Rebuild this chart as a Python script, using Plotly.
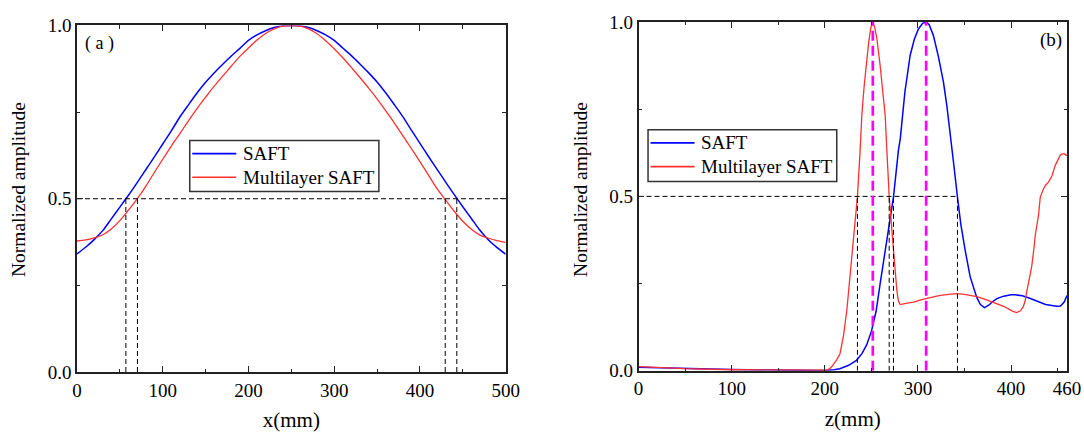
import plotly.graph_objects as go

# ---------------- Panel (a) data ----------------
x_a = [0, 10, 20, 30, 40, 50, 60, 70, 80, 90, 100, 110, 120, 130, 140, 150, 160, 170, 180, 190, 200,
       210, 220, 230, 240, 250, 260, 270, 280, 290, 300, 310, 320, 330, 340, 350, 360, 370, 380, 390,
       400, 410, 420, 430, 440, 450, 460, 470, 480, 490, 500]
saft_a = [0.341, 0.360, 0.382, 0.408, 0.442, 0.476, 0.510, 0.546, 0.583, 0.620, 0.658, 0.696, 0.736,
          0.771, 0.805, 0.836, 0.863, 0.888, 0.912, 0.934, 0.957, 0.973, 0.985, 0.994, 0.999, 1.000,
          0.999, 0.994, 0.985, 0.973, 0.957, 0.935, 0.913, 0.889, 0.864, 0.837, 0.806, 0.772, 0.737,
          0.698, 0.660, 0.622, 0.585, 0.548, 0.512, 0.477, 0.443, 0.409, 0.381, 0.359, 0.340]
mlsaft_a = [0.378, 0.381, 0.387, 0.396, 0.413, 0.437, 0.467, 0.499, 0.535, 0.575, 0.614, 0.652, 0.688,
            0.725, 0.760, 0.793, 0.825, 0.854, 0.883, 0.911, 0.935, 0.958, 0.977, 0.990, 0.998, 1.000,
            0.998, 0.990, 0.976, 0.956, 0.933, 0.907, 0.879, 0.850, 0.820, 0.788, 0.754, 0.719, 0.682,
            0.645, 0.607, 0.568, 0.529, 0.496, 0.464, 0.435, 0.412, 0.395, 0.386, 0.379, 0.374]
half_level = 0.5
half_x_a = [57, 70.5, 429.5, 443]

# ---------------- Panel (b) data ----------------
z_saft = [0, 25, 50, 100, 150, 200, 210, 216, 225, 234, 240, 245, 250, 255, 259.4, 264, 268.3, 273.7,
          279, 281, 286, 291.6, 296, 300.5, 305, 308.8, 312, 316.6, 322, 327.4, 331, 334.6, 338.5,
          342.4, 346, 350.7, 356, 363, 367, 371.4, 376, 380, 384.7, 392, 400, 404.4, 412, 420, 430,
          437, 442, 449, 453, 457, 460]
saft_b = [0.010, 0.008, 0.006, 0.004, 0.002, 0.001, 0.003, 0.006, 0.015, 0.030, 0.050, 0.075, 0.113,
          0.170, 0.250, 0.330, 0.393, 0.498, 0.632, 0.665, 0.800, 0.904, 0.950, 0.980, 0.996, 1.000,
          0.992, 0.961, 0.900, 0.827, 0.760, 0.684, 0.590, 0.498, 0.420, 0.345, 0.270, 0.211, 0.190,
          0.181, 0.188, 0.198, 0.207, 0.214, 0.218, 0.218, 0.215, 0.208, 0.198, 0.190, 0.188, 0.185,
          0.186, 0.197, 0.216]
z_ml = [0, 25, 50, 100, 150, 200, 203, 207, 210, 213, 216.3, 220, 223.6, 227, 230.7, 235, 237.9,
        239.7, 242, 244.4, 247, 249.5, 251.5, 253.5, 256, 259.4, 262, 264.8, 266.6, 269.1, 271.5,
        273.7, 277.3, 279, 280.9, 287, 295.2, 305, 315, 323.8, 333, 341.8, 350, 356, 363, 370, 377,
        384.7, 392, 398, 402, 406, 410, 413, 415, 417, 419, 422, 424, 426, 429.4, 431.3, 434.8, 437,
        440.2, 444, 447.4, 450, 452.7, 455, 457, 460]
mlsaft_b = [0.012, 0.009, 0.006, 0.003, 0.002, 0.001, 0.002, 0.010, 0.020, 0.033, 0.049, 0.100, 0.173,
            0.270, 0.393, 0.500, 0.632, 0.732, 0.810, 0.875, 0.940, 0.985, 1.000, 0.985, 0.950, 0.875,
            0.800, 0.732, 0.632, 0.500, 0.420, 0.345, 0.231, 0.200, 0.190, 0.193, 0.197, 0.205, 0.212,
            0.216, 0.219, 0.221, 0.219, 0.216, 0.213, 0.207, 0.200, 0.192, 0.185, 0.176, 0.170, 0.167,
            0.172, 0.183, 0.200, 0.230, 0.260, 0.297, 0.340, 0.390, 0.446, 0.498, 0.522, 0.532, 0.541,
            0.560, 0.589, 0.605, 0.618, 0.622, 0.622, 0.617]
half_x_b = [235, 269.1, 273.7, 342.4]
peak_z_b = [251.5, 308.8]

x_ticks_b = [0, 100, 200, 300, 400, 460]
y_ticks = [0, 0.5, 1.0]
series_names = ["SAFT", "Multilayer SAFT"]

FONT = "Liberation Serif, Times New Roman, serif"
BLUE = "#0000ff"
RED = "#ff3030"
MAG = "#ff00ff"
COLORS = [BLUE, RED]
WIDTHS = [1.5, 1.3]

fig = go.Figure()

# panel (a) curves
fig.add_trace(go.Scatter(x=x_a, y=saft_a, mode="lines", name=series_names[0],
                         line=dict(color=BLUE, width=1.5, shape="spline", smoothing=0.8),
                         xaxis="x", yaxis="y", showlegend=False))
fig.add_trace(go.Scatter(x=x_a, y=mlsaft_a, mode="lines", name=series_names[1],
                         line=dict(color=RED, width=1.3, shape="spline", smoothing=0.8),
                         xaxis="x", yaxis="y", showlegend=False))
fig.add_trace(go.Scatter(x=[x_a[0], x_a[-1]], y=[half_level, half_level], mode="lines",
                         line=dict(color="black", width=1, dash="5px,3px"), showlegend=False,
                         xaxis="x", yaxis="y", hoverinfo="skip"))
for hx in half_x_a:
    fig.add_trace(go.Scatter(x=[hx, hx], y=[0, half_level], mode="lines",
                             line=dict(color="black", width=1, dash="5px,3px"), showlegend=False,
                             xaxis="x", yaxis="y", hoverinfo="skip"))

# panel (b) curves
fig.add_trace(go.Scatter(x=z_saft, y=saft_b, mode="lines", name=series_names[0],
                         line=dict(color=BLUE, width=1.5), xaxis="x2", yaxis="y2", showlegend=False))
fig.add_trace(go.Scatter(x=z_ml, y=mlsaft_b, mode="lines", name=series_names[1],
                         line=dict(color=RED, width=1.3), xaxis="x2", yaxis="y2", showlegend=False))
fig.add_trace(go.Scatter(x=[0, half_x_b[-1]], y=[half_level, half_level], mode="lines",
                         line=dict(color="black", width=1, dash="5px,3px"), showlegend=False,
                         xaxis="x2", yaxis="y2", hoverinfo="skip"))
for hx in half_x_b:
    fig.add_trace(go.Scatter(x=[hx, hx], y=[0, half_level], mode="lines",
                             line=dict(color="black", width=1, dash="5px,3px"), showlegend=False,
                             xaxis="x2", yaxis="y2", hoverinfo="skip"))
for pz in peak_z_b:
    fig.add_trace(go.Scatter(x=[pz, pz], y=[0, 1], mode="lines",
                             line=dict(color=MAG, width=2.7, dash="10px,5px"), showlegend=False,
                             xaxis="x2", yaxis="y2", hoverinfo="skip"))

L, R, T, B = 77.3, 17.3, 21.5, 60.3
W, H = 1084, 432
PW, PH = W - L - R, H - T - B


def px_x(p):
    return (p - L) / PW


def px_y(p):
    return (H - B - p) / PH


axis_common = dict(showline=True, linewidth=1.5, linecolor="#222", mirror="ticks",
                   ticks="inside", ticklen=6, tickwidth=1.2, tickcolor="#222",
                   showgrid=False, zeroline=False,
                   tickfont=dict(family=FONT, size=19, color="black"),
                   automargin=False)
minor_common = dict(ticklen=3.5, tickwidth=1.2, tickcolor="#222", ticks="inside")

# manual legends (box, line samples, labels)
shapes = []
annotations = []
legend_boxes = [(190, 140, 379, 191), (648, 129.3, 836.6, 181)]
for (x0, y0, x1, y1) in legend_boxes:
    shapes.append(dict(type="rect", xref="paper", yref="paper",
                       x0=px_x(x0), x1=px_x(x1), y0=px_y(y1), y1=px_y(y0),
                       line=dict(color="#333", width=1.5), fillcolor="white", layer="above"))
    rows = [y0 + 13.2, y0 + 36.9]
    for i, ry in enumerate(rows):
        shapes.append(dict(type="line", xref="paper", yref="paper",
                           x0=px_x(x0 + 2.5), x1=px_x(x0 + 46.5), y0=px_y(ry), y1=px_y(ry),
                           line=dict(color=COLORS[i], width=WIDTHS[i] + 0.3), layer="above"))
        annotations.append(dict(text=series_names[i], x=px_x(x0 + 51.0), y=px_y(ry),
                                xref="paper", yref="paper", xanchor="left", yanchor="middle",
                                showarrow=False,
                                font=dict(family=FONT, size=19, color="black")))

# y-axis titles (placed as rotated text, centred as in the original figure)
for cx in (19, 580.5):
    annotations.append(dict(text="Normalized amplitude", x=px_x(cx), y=px_y(189),
                            xref="paper", yref="paper", xanchor="center", yanchor="middle",
                            textangle=-90, showarrow=False,
                            font=dict(family=FONT, size=19.5, color="black")))

annotations += [
    dict(text="( a )", x=px_x(100), y=px_y(43.3), xref="paper", yref="paper",
         xanchor="center", yanchor="middle", showarrow=False,
         font=dict(family=FONT, size=18, color="black")),
    dict(text="(b)", x=px_x(1051), y=px_y(40), xref="paper", yref="paper",
         xanchor="center", yanchor="middle", showarrow=False,
         font=dict(family=FONT, size=19, color="black")),
]

fig.update_layout(
    width=W, height=H,
    margin=dict(l=L, r=R, t=T, b=B, pad=0),
    paper_bgcolor="white", plot_bgcolor="white",
    font=dict(family=FONT, size=19, color="black"),
    xaxis=dict(domain=[0, px_x(505.7)], range=[0, 500], dtick=100, tick0=0,
               minor=dict(dtick=50, tick0=0, **minor_common),
               title=dict(text="x(mm)", font=dict(family=FONT, size=21), standoff=13),
               anchor="y", **axis_common),
    yaxis=dict(domain=[px_y(371.7), px_y(25)], range=[0, 1], tickmode="array", tickvals=y_ticks,
               ticktext=[f"{v:.1f}" for v in y_ticks],
               minor=dict(tickmode="linear", dtick=0.25, tick0=0, **minor_common),
               anchor="x", **axis_common),
    xaxis2=dict(domain=[px_x(638.5), px_x(1066.7)], range=[0, 460], tickmode="array",
                tickvals=x_ticks_b, ticktext=[str(v) for v in x_ticks_b],
                minor=dict(tickmode="linear", dtick=50, tick0=0, **minor_common),
                title=dict(text="z(mm)", font=dict(family=FONT, size=21), standoff=13),
                anchor="y2", **axis_common),
    yaxis2=dict(domain=[px_y(370.5), px_y(21.5)], range=[0, 1], tickmode="array", tickvals=y_ticks,
                ticktext=[f"{v:.1f}" for v in y_ticks],
                minor=dict(tickmode="linear", dtick=0.25, tick0=0, **minor_common),
                anchor="x2", **axis_common),
    shapes=shapes,
    annotations=annotations,
    showlegend=False,
)

fig.write_html("out.html")
